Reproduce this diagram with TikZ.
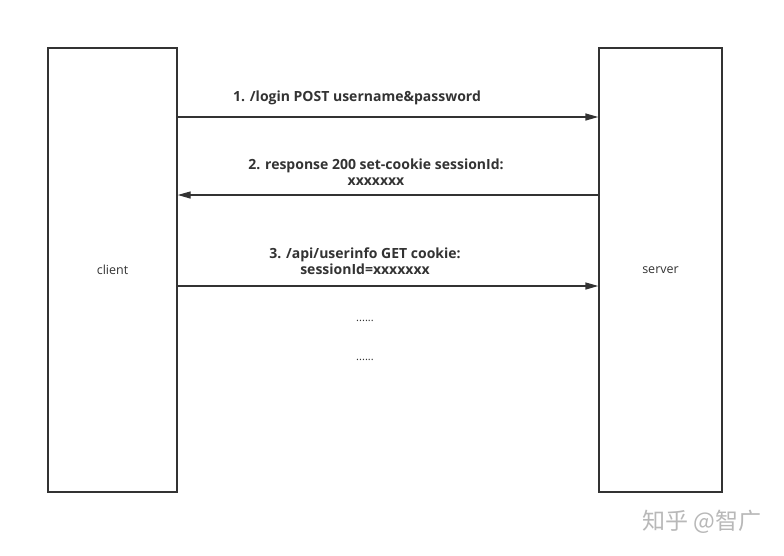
\documentclass[tikz,border=0pt]{standalone}
\usepackage{fontspec}
\setmainfont{Open Sans}
\newfontfamily\cjk{Noto Sans CJK SC}
\usepackage{xcolor}
\usetikzlibrary{arrows.meta,positioning}
\definecolor{linegray}{HTML}{333333}
\definecolor{markgray}{HTML}{B8B8B8}

\begin{document}
\begin{tikzpicture}[x=1pt,y=-1pt]
    \useasboundingbox[fill=white] (0,0) rectangle (784,555);
    \begin{scope}[every node/.style={draw=linegray,line width=1.4pt,rectangle,inner sep=0pt,font=\fontsize{12.5}{14}\selectfont,text=linegray}]
        %boxes
        \node[minimum width=129pt,minimum height=444pt] (client) at (112.5,270) {client};
        \node[minimum width=123pt,minimum height=444pt] (server) at (660.5,270) {server};
    \end{scope}

    %labels
    \begin{scope}[every node/.style={align=center,text=linegray,font=\bfseries\fontsize{14}{16}\selectfont,inner sep=0pt}]
        \node (label1) at (357,98) {1. /login POST username\&password};
        \node (label2) at (376,172) {2. response 200 set-cookie sessionId:\\xxxxxxx};
        \node (label3) at (365,261) {3. /api/userinfo GET cookie:\\sessionId=xxxxxxx};
    \end{scope}

    %arrows
    \begin{scope}[line width=1.4pt,draw=linegray,-{Triangle[length=13pt,width=7pt]}]
        \draw (client.north east |- 0,117) -- (server.north west |- 0,117);
        \draw (server.north west |- 0,195) -- (client.north east |- 0,195);
        \draw (client.north east |- 0,286) -- (server.north west |- 0,286);
    \end{scope}

    %dots
    \node[text=linegray,font=\fontsize{11}{12}\selectfont] (dots1) at (365,321) {......};
    \node[text=linegray,font=\fontsize{11}{12}\selectfont] (dots2) at (365,360) {......};

    %watermark
    \node[text=markgray,font=\cjk\fontsize{23}{26}\selectfont] (mark) at (702,522) {知乎 @智广};
\end{tikzpicture}
\end{document}
